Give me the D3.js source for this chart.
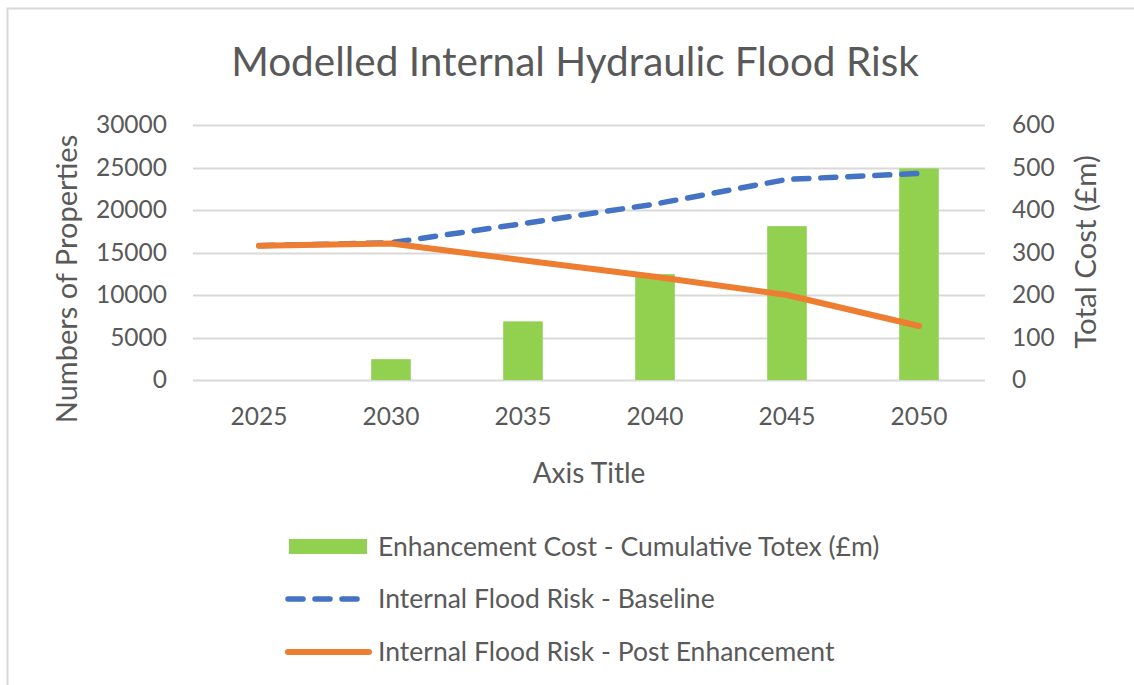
<!DOCTYPE html>
<html>
<head>
<meta charset="utf-8">
<script src="https://cdn.jsdelivr.net/npm/d3@7"></script>
<style>
    body { margin: 0; background: #fff; }
    text { font-family: Lato, "Open Sans", sans-serif; fill: #595959; }
</style>
</head>
<body>
<script>
var years = ["2025", "2030", "2035", "2040", "2045", "2050"];
var cumulativeCost = [0, 49, 138, 249, 362, 498];
var baselineRisk = [15800, 16150, 18400, 20700, 23600, 24300];
var postRisk = [15800, 16050, 14100, 12150, 10000, 6350];

var leftTicks = [0, 5000, 10000, 15000, 20000, 25000, 30000];
var rightTicks = [0, 100, 200, 300, 400, 500, 600];

var seriesNames = [
    "Enhancement Cost - Cumulative Totex (£m)",
    "Internal Flood Risk - Baseline",
    "Internal Flood Risk - Post Enhancement"
];

var width = 1134,
    height = 685;

var green = "#92D050",
    blue = "#4472C4",
    orange = "#ED7D31",
    grid = "#d9d9d9";

var svg = d3.select("body")
    .append("svg")
    .attr("width", width)
    .attr("height", height);

// chart frame (runs off the right and bottom of the picture)
svg.append("rect")
    .attr("x", 7.5)
    .attr("y", 8.5)
    .attr("width", width + 20)
    .attr("height", height + 20)
    .attr("fill", "none")
    .attr("stroke", grid)
    .attr("stroke-width", 2);

var plot = { left: 193, right: 985, top: 125, bottom: 380 };

var x = d3.scaleBand()
    .domain(years)
    .range([plot.left, plot.right]);

var yLeft = d3.scaleLinear()
    .domain([0, 30000])
    .range([plot.bottom, plot.top]);

var yRight = d3.scaleLinear()
    .domain([0, 600])
    .range([plot.bottom, plot.top]);

// gridlines
svg.append("g")
    .selectAll("line")
    .data(leftTicks)
    .enter()
    .append("line")
    .attr("x1", plot.left)
    .attr("x2", plot.right)
    .attr("y1", function(d) { return Math.round(yLeft(d)) + 0.5; })
    .attr("y2", function(d) { return Math.round(yLeft(d)) + 0.5; })
    .attr("stroke", grid)
    .attr("stroke-width", 2);

// left axis
var leftAxis = svg.append("g")
    .attr("transform", "translate(" + (plot.left - 26) + ",0)")
    .call(d3.axisLeft(yLeft).tickValues(leftTicks).tickSize(0).tickFormat(d3.format("d")));
leftAxis.select(".domain").remove();
leftAxis.selectAll("text")
    .attr("x", 0)
    .style("font-size", "24.5px")
    .style("fill", "#595959");

// right axis
var rightAxis = svg.append("g")
    .attr("transform", "translate(" + (plot.right + 27) + ",0)")
    .call(d3.axisRight(yRight).tickValues(rightTicks).tickSize(0));
rightAxis.select(".domain").remove();
rightAxis.selectAll("text")
    .attr("x", 0)
    .style("font-size", "24.5px")
    .style("fill", "#595959");

// bottom axis
var bottomAxis = svg.append("g")
    .attr("transform", "translate(0," + (plot.bottom + 28) + ")")
    .call(d3.axisBottom(x).tickSize(0));
bottomAxis.select(".domain").remove();
bottomAxis.selectAll("text")
    .attr("y", 0)
    .attr("dy", "0.71em")
    .style("font-size", "24.5px")
    .style("fill", "#595959");

// bars on the secondary axis
var barW = x.bandwidth() * 0.3;
svg.append("g")
    .selectAll("rect")
    .data(cumulativeCost)
    .enter()
    .append("rect")
    .attr("x", function(d, i) { return x(years[i]) + x.bandwidth() / 2 - barW / 2; })
    .attr("y", function(d) { return yRight(d); })
    .attr("width", barW)
    .attr("height", function(d) { return yRight(0) - yRight(d); })
    .attr("fill", green);

var line = d3.line()
    .x(function(d, i) { return x(years[i]) + x.bandwidth() / 2; })
    .y(function(d) { return yLeft(d); });

svg.append("path")
    .datum(baselineRisk)
    .attr("d", line)
    .attr("fill", "none")
    .attr("stroke", blue)
    .attr("stroke-width", 5.5)
    .attr("stroke-linecap", "round")
    .attr("stroke-dasharray", "15 12");

svg.append("path")
    .datum(postRisk)
    .attr("d", line)
    .attr("fill", "none")
    .attr("stroke", orange)
    .attr("stroke-width", 6)
    .attr("stroke-linecap", "round")
    .attr("stroke-linejoin", "round");

// titles
svg.append("text")
    .attr("x", 575)
    .attr("y", 76)
    .attr("text-anchor", "middle")
    .style("font-size", "40.5px")
    .text("Modelled Internal Hydraulic Flood Risk");

svg.append("text")
    .attr("transform", "translate(" + 77 + "," + 279 + ") rotate(-90)")
    .attr("text-anchor", "middle")
    .style("font-size", "29px")
    .text("Numbers of Properties");

svg.append("text")
    .attr("transform", "translate(" + 1096 + "," + 252 + ") rotate(-90)")
    .attr("text-anchor", "middle")
    .style("font-size", "29.5px")
    .text("Total Cost (£m)");

svg.append("text")
    .attr("x", 589)
    .attr("y", 483)
    .attr("text-anchor", "middle")
    .style("font-size", "28px")
    .text("Axis Title");

// legend
var legendY = [547, 599, 652];
var legend = svg.append("g");

legend.append("rect")
    .attr("x", 289)
    .attr("y", legendY[0] - 8)
    .attr("width", 78)
    .attr("height", 15)
    .attr("fill", green);

legend.append("line")
    .attr("x1", 288).attr("x2", 360)
    .attr("y1", legendY[1]).attr("y2", legendY[1])
    .attr("stroke", blue)
    .attr("stroke-width", 5.5)
    .attr("stroke-linecap", "round")
    .attr("stroke-dasharray", "15 12");

legend.append("line")
    .attr("x1", 288).attr("x2", 369)
    .attr("y1", legendY[2]).attr("y2", legendY[2])
    .attr("stroke", orange)
    .attr("stroke-width", 6)
    .attr("stroke-linecap", "round");

legend.selectAll("text.lbl")
    .data(seriesNames)
    .enter()
    .append("text")
    .attr("class", "lbl")
    .attr("x", 378)
    .attr("y", function(d, i) { return legendY[i]; })
    .attr("dy", "0.35em")
    .style("font-size", "26.5px")
    .text(function(d) { return d; });
</script>
</body>
</html>
